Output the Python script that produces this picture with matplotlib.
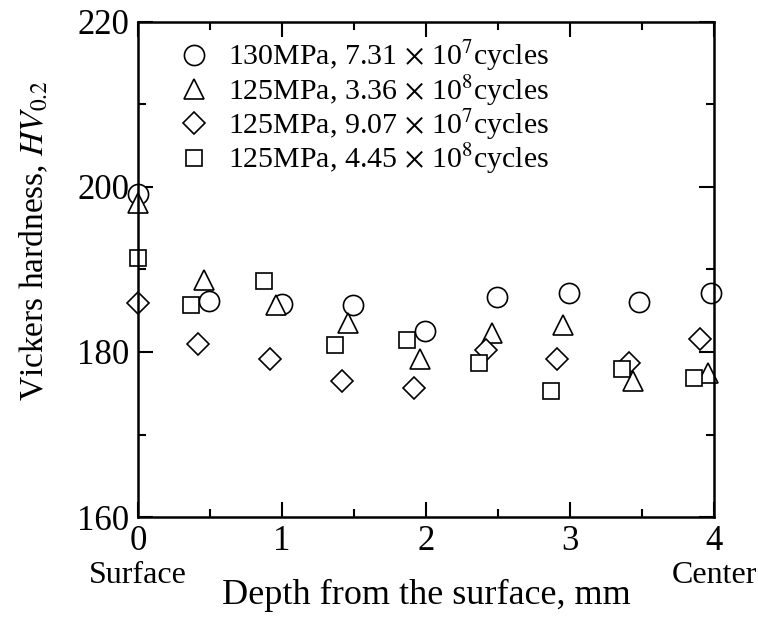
import numpy as np
import matplotlib.pyplot as plt
from matplotlib.ticker import MultipleLocator

plt.rcParams['font.family'] = ['Liberation Serif', 'DejaVu Serif']
plt.rcParams['mathtext.fontset'] = 'stix'

# Datos
depth_130 = [0.0, 0.49, 1.0, 1.49, 1.99, 2.49, 2.99, 3.48, 3.98]
hv_130 = [199.1, 186.2, 185.8, 185.7, 182.5, 186.7, 187.2, 186.0, 187.2]

depth_336 = [0.0, 0.46, 0.96, 1.46, 1.96, 2.46, 2.95, 3.44, 3.96]
hv_336 = [198.0, 188.7, 185.7, 183.5, 179.2, 182.3, 183.3, 176.5, 177.4]

depth_907 = [0.0, 0.42, 0.92, 1.42, 1.92, 2.42, 2.91, 3.41, 3.90]
hv_907 = [185.9, 181.0, 179.2, 176.5, 175.6, 180.2, 179.2, 178.7, 181.6]

depth_445 = [0.0, 0.37, 0.875, 1.37, 1.87, 2.37, 2.87, 3.36, 3.86]
hv_445 = [191.4, 185.7, 188.6, 180.9, 181.5, 178.7, 175.3, 178.0, 176.9]

labels = [r"130MPa, 7.31$\,\times\,$10$^{7}$cycles",
          r"125MPa, 3.36$\,\times\,$10$^{8}$cycles",
          r"125MPa, 9.07$\,\times\,$10$^{7}$cycles",
          r"125MPa, 4.45$\,\times\,$10$^{8}$cycles"]

fig = plt.figure(figsize=(7.58, 6.23), dpi=100)
ax = fig.add_axes([0.182, 0.170, 0.760, 0.795])

estilo = dict(ls='none', mfc='white', mec='black', mew=1.2, clip_on=False)
ax.plot(depth_130, hv_130, 'o', ms=14.5, label=labels[0], **estilo)
ax.plot(depth_336, hv_336, '^', ms=15, label=labels[1], **estilo)
ax.plot(depth_907, hv_907, 'D', ms=11.5, label=labels[2], **estilo)
ax.plot(depth_445, hv_445, 's', ms=11.5, label=labels[3], **estilo)

ax.set_xlim(0, 4)
ax.set_ylim(160, 220)
ax.xaxis.set_major_locator(MultipleLocator(1))
ax.xaxis.set_minor_locator(MultipleLocator(0.5))
ax.yaxis.set_major_locator(MultipleLocator(20))
ax.yaxis.set_minor_locator(MultipleLocator(10))
ax.tick_params(which='both', direction='in', top=True, right=True, width=1.5)
ax.tick_params(which='major', length=11, labelsize=25, pad=6)
ax.tick_params(which='minor', length=6)
for s in ax.spines.values():
    s.set_linewidth(1.8)

ax.set_xlabel("Depth from the surface, mm", fontsize=26)
ax.xaxis.set_label_coords(0.5, -0.125)
ax.set_ylabel(r"Vickers hardness, $\mathit{HV}_{\mathit{0.2}}$", fontsize=24)
ax.yaxis.set_label_coords(-0.152, 0.558)

ax.text(0, -0.117, "Surface", transform=ax.transAxes, ha='center', va='center', fontsize=23)
ax.text(1, -0.117, "Center", transform=ax.transAxes, ha='center', va='center', fontsize=23)

ax.legend(loc='upper left', bbox_to_anchor=(0.045, 0.99), frameon=False, fontsize=21.5,
          handletextpad=0.55, labelspacing=0.0, borderaxespad=0.0, handlelength=1.2)

fig.savefig("out.png", dpi=100)
